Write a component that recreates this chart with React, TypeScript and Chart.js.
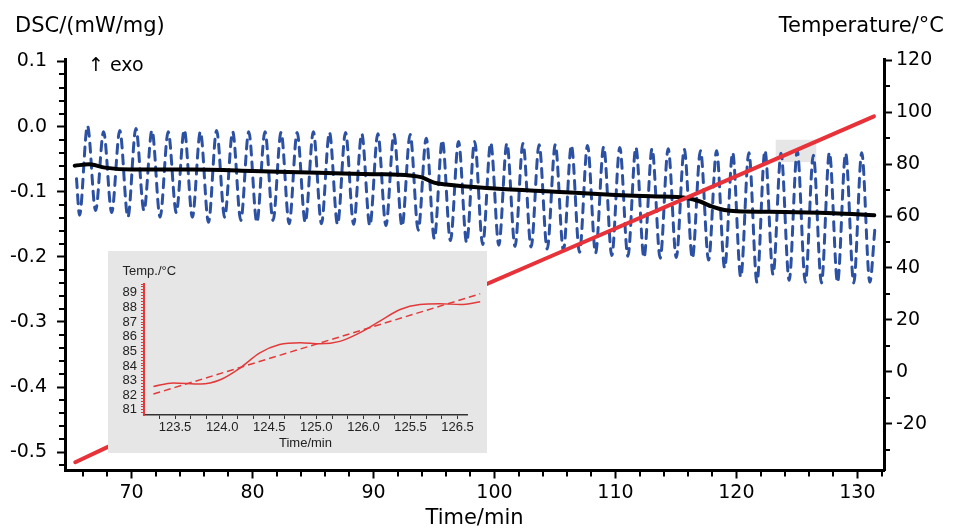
import { useEffect, useRef } from "react";
import { Chart, registerables } from "chart.js";

Chart.register(...registerables);

const FONT = '"DejaVu Sans", sans-serif';
const INSET_NUM_FONT = '"Liberation Sans Narrow", "Liberation Sans", sans-serif';
const INSET_TXT_FONT = '"Liberation Sans", sans-serif';

// ---------- main chart data ----------
// modulated DSC signal (extrema)
const dscTime = [65.45, 65.70, 66.36, 67.03, 67.69, 68.36, 69.03, 69.70, 70.36, 71.03, 71.69, 72.36, 73.03, 73.70, 74.36, 75.03, 75.69, 76.36, 77.03, 77.70, 78.36, 79.03, 79.69, 80.36, 81.03, 81.70, 82.36, 83.03, 83.69, 84.36, 85.03, 85.70, 86.36, 87.03, 87.69, 88.36, 89.03, 89.70, 90.36, 91.03, 91.69, 92.36, 93.03, 93.70, 94.36, 95.03, 95.69, 96.36, 97.03, 97.70, 98.36, 99.03, 99.69, 100.36, 101.03, 101.70, 102.36, 103.03, 103.69, 104.36, 105.03, 105.70, 106.36, 107.03, 107.69, 108.36, 109.03, 109.70, 110.36, 111.03, 111.69, 112.36, 113.03, 113.70, 114.36, 115.03, 115.69, 116.36, 117.03, 117.70, 118.36, 119.03, 119.69, 120.36, 121.03, 121.70, 122.36, 123.03, 123.69, 124.36, 125.03, 125.70, 126.36, 127.03, 127.69, 128.36, 129.03, 129.70, 130.36, 131.03, 131.45];
const dscValue = [-0.080,
  -0.136, 0.001, -0.129, -0.008, -0.132, -0.006, -0.139, -0.003, -0.129, -0.006,
  -0.139, -0.008, -0.132, -0.005, -0.139, -0.008, -0.147, -0.006, -0.139, -0.008,
  -0.144, -0.008, -0.147, -0.008, -0.144, -0.009, -0.149, -0.009, -0.147, -0.008,
  -0.149, -0.009, -0.150, -0.009, -0.150, -0.011, -0.152, -0.011, -0.152, -0.012,
  -0.153, -0.012, -0.159, -0.018, -0.172, -0.021, -0.175, -0.023, -0.178, -0.023,
  -0.181, -0.025, -0.182, -0.026, -0.184, -0.026, -0.185, -0.028, -0.188, -0.028,
  -0.190, -0.029, -0.193, -0.029, -0.194, -0.031, -0.198, -0.032, -0.199, -0.032,
  -0.201, -0.034, -0.202, -0.034, -0.201, -0.035, -0.202, -0.037, -0.205, -0.037,
  -0.217, -0.040, -0.231, -0.040, -0.239, -0.037, -0.227, -0.041, -0.236, -0.037,
  -0.239, -0.044, -0.240, -0.040, -0.239, -0.041, -0.240, -0.040,
  -0.239, -0.156];

// total heat flow
const totalTime = [65.3, 66.5, 67.8, 70.0, 75.0, 80.0, 85.5, 90.0, 93.0, 94.0, 95.0, 96.0, 100.0, 105.0, 110.0, 113.0, 116.0, 117.0, 118.0, 119.0, 120.0, 124.0, 128.0, 131.4];
const totalValue = [-0.060, -0.058, -0.063, -0.066, -0.066, -0.068, -0.071, -0.073, -0.075, -0.078, -0.086, -0.089, -0.095, -0.100, -0.105, -0.107, -0.110, -0.115, -0.123, -0.128, -0.130, -0.131, -0.133, -0.136];

// sample temperature
const tempTime = [65.35, 68.0, 75.0, 85.0, 95.0, 105.0, 115.0, 125.0, 131.37];
const tempValue = [-34.8, -29.0, -15.3, 4.8, 25.0, 45.2, 65.3, 85.5, 98.4];

// axis ticks
const timeTicks = [70, 80, 90, 100, 110, 120, 130];
const timeTickLabels = ["70", "80", "90", "100", "110", "120", "130"];
const dscTicks = [0.1, 0.0, -0.1, -0.2, -0.3, -0.4, -0.5];
const dscTickLabels = ["0.1", "0.0", "-0.1", "-0.2", "-0.3", "-0.4", "-0.5"];
const tempTicks = [120, 100, 80, 60, 40, 20, 0, -20];
const tempTickLabels = ["120", "100", "80", "60", "40", "20", "0", "-20"];

// zoom window shown in the inset
const zoomTime = [123.25, 126.6];
const zoomTemp = [80.8, 89.4];

// ---------- inset data ----------
const insetTime = [123.27, 123.48, 123.77, 123.98, 124.19, 124.40, 124.61, 124.83, 125.04, 125.25, 125.46, 125.67, 125.89, 126.10, 126.31, 126.53, 126.74];
const insetTemp = [82.60, 82.84, 82.77, 83.06, 83.86, 84.89, 85.46, 85.58, 85.51, 85.68, 86.26, 87.05, 87.86, 88.20, 88.25, 88.20, 88.38];
const insetRampTime = [123.27, 126.74];
const insetRampTemp = [82.08, 88.93];
const insetXLabels = ["123.5", "124.0", "124.5", "125.0", "126.0", "125.5", "126.5"];
const insetYLabels = ["81", "82", "83", "84", "85", "86", "87", "88", "89"];

const pts = (xs: number[], ys: number[]) => {
  const n = Math.min(xs.length, ys.length);
  const out: { x: number; y: number }[] = [];
  for (let i = 0; i < n; i++) out.push({ x: xs[i], y: ys[i] });
  return out;
};

const mainDecor = {
  id: "mainDecor",
  beforeDatasetsDraw(chart: any) {
    const { ctx, scales } = chart;
    const x0 = scales.x.getPixelForValue(zoomTime[0]);
    const x1 = scales.x.getPixelForValue(zoomTime[1]);
    const y0 = scales.y2.getPixelForValue(zoomTemp[1]);
    const y1 = scales.y2.getPixelForValue(zoomTemp[0]);
    ctx.save();
    ctx.fillStyle = "#e6e6e6";
    ctx.fillRect(x0, y0, x1 - x0, y1 - y0);
    ctx.restore();
  },
  afterDraw(chart: any) {
    const { ctx, chartArea: a, scales } = chart;
    ctx.save();
    ctx.strokeStyle = "#000";
    ctx.lineWidth = 2;
    ctx.beginPath();
    for (let v = 66; v <= 132; v += 2) {
      if (v % 10 === 0) continue;
      const px = Math.round(scales.x.getPixelForValue(v));
      ctx.moveTo(px, a.bottom);
      ctx.lineTo(px, a.bottom + 6);
    }
    for (let k = -26; k <= 5; k++) {
      if (k % 5 === 0) continue;
      const py = Math.round(scales.y.getPixelForValue(k * 0.02));
      ctx.moveTo(a.left, py);
      ctx.lineTo(a.left - 6, py);
    }
    for (let v = -30; v <= 120; v += 20) {
      const py = Math.round(scales.y2.getPixelForValue(v));
      ctx.moveTo(a.right, py);
      ctx.lineTo(a.right + 6, py);
    }
    ctx.stroke();

    ctx.fillStyle = "#000";
    ctx.textBaseline = "alphabetic";
    ctx.font = `21px ${FONT}`;
    ctx.textAlign = "left";
    ctx.fillText("DSC/(mW/mg)", 15, 31.5);
    ctx.textAlign = "right";
    ctx.fillText("Temperature/°C", 944, 31.5);
    ctx.font = `19px ${FONT}`;
    ctx.textAlign = "left";
    ctx.fillText("↑ exo", 88, 71);
    ctx.restore();
  },
};

const insetDecor = {
  id: "insetDecor",
  afterDraw(chart: any) {
    const { ctx } = chart;
    ctx.save();
    ctx.fillStyle = "#222";
    ctx.font = `13px ${INSET_TXT_FONT}`;
    ctx.textAlign = "left";
    ctx.textBaseline = "alphabetic";
    ctx.fillText("Temp./°C", 14.5, 24);
    ctx.restore();
  },
};

export default function App() {
  const mainRef = useRef<HTMLCanvasElement>(null);
  const insetRef = useRef<HTMLCanvasElement>(null);

  useEffect(() => {
    const main = new Chart(mainRef.current as HTMLCanvasElement, {
      type: "line",
      data: {
        datasets: [
          {
            label: "Temperature",
            data: pts(tempTime, tempValue),
            yAxisID: "y2",
            borderColor: "#e8323a",
            borderWidth: 4,
            pointRadius: 0,
            borderCapStyle: "round",
            borderJoinStyle: "round",
            order: 0,
          },
          {
            label: "DSC total",
            data: pts(totalTime, totalValue),
            yAxisID: "y",
            borderColor: "#000000",
            borderWidth: 4,
            pointRadius: 0,
            cubicInterpolationMode: "monotone",
            borderCapStyle: "round",
            order: 1,
          },
          {
            label: "DSC modulated",
            data: pts(dscTime, dscValue),
            yAxisID: "y",
            borderColor: "#2d51a2",
            borderWidth: 3,
            borderDash: [9, 7],
            borderCapStyle: "round",
            pointRadius: 0,
            cubicInterpolationMode: "monotone",
            order: 2,
          },
        ],
      } as any,
      options: {
        animation: false,
        responsive: false,
        events: [],
        layout: { padding: { top: 59.5, left: 0, right: 0, bottom: 0 } },
        plugins: { legend: { display: false }, tooltip: { enabled: false } },
        scales: {
          x: {
            type: "linear",
            position: "bottom",
            min: 64.5,
            max: 132.2,
            afterBuildTicks: (s: any) => {
              s.ticks = timeTicks.map((v) => ({ value: v }));
            },
            afterFit: (s: any) => {
              s.height = 60.5;
            },
            ticks: {
              autoSkip: false,
              maxRotation: 0,
              padding: 3,
              color: "#000",
              font: { family: FONT, size: 19 },
              callback: (_v: any, i: number) => timeTickLabels[i],
            },
            grid: { display: true, drawOnChartArea: false, drawTicks: true, tickLength: 8, tickWidth: 2, tickColor: "#000" },
            border: { display: true, color: "#000", width: 3 },
            title: { display: true, text: "Time/min", color: "#000", font: { family: FONT, size: 21 }, padding: { top: 0, bottom: 0 } },
          },
          y: {
            type: "linear",
            position: "left",
            min: -0.528,
            max: 0.103,
            afterBuildTicks: (s: any) => {
              s.ticks = dscTicks.map((v) => ({ value: v }));
            },
            afterFit: (s: any) => {
              s.width = 65;
            },
            ticks: {
              autoSkip: false,
              padding: 10,
              color: "#000",
              font: { family: FONT, size: 19 },
              callback: (_v: any, i: number) => dscTickLabels[i],
            },
            grid: { display: true, drawOnChartArea: false, drawTicks: true, tickLength: 8, tickWidth: 2, tickColor: "#000" },
            border: { display: true, color: "#000", width: 3 },
          },
          y2: {
            type: "linear",
            position: "right",
            min: -38,
            max: 120.3,
            afterBuildTicks: (s: any) => {
              s.ticks = tempTicks.map((v) => ({ value: v }));
            },
            afterFit: (s: any) => {
              s.width = 72;
            },
            ticks: {
              autoSkip: false,
              padding: 4,
              color: "#000",
              font: { family: FONT, size: 19 },
              callback: (_v: any, i: number) => tempTickLabels[i],
            },
            grid: { display: true, drawOnChartArea: false, drawTicks: true, tickLength: 8, tickWidth: 2, tickColor: "#000" },
            border: { display: true, color: "#000", width: 3 },
          },
        },
      } as any,
      plugins: [mainDecor],
    });

    const inset = new Chart(insetRef.current as HTMLCanvasElement, {
      type: "line",
      data: {
        datasets: [
          {
            label: "Temp.",
            data: pts(insetTime, insetTemp),
            borderColor: "#e23a3a",
            borderWidth: 1.5,
            pointRadius: 0,
            cubicInterpolationMode: "monotone",
            clip: false,
          },
          {
            label: "Linear",
            data: pts(insetRampTime, insetRampTemp),
            borderColor: "#e23a3a",
            borderWidth: 1.5,
            borderDash: [7, 4],
            pointRadius: 0,
            clip: false,
          },
        ],
      } as any,
      options: {
        animation: false,
        responsive: false,
        events: [],
        layout: { padding: { top: 33, left: 0, right: 20, bottom: 0 } },
        plugins: { legend: { display: false }, tooltip: { enabled: false } },
        scales: {
          x: {
            type: "linear",
            min: 123.17,
            max: 126.6,
            afterBuildTicks: (s: any) => {
              const t: { value: number }[] = [];
              for (let k = -1; k <= 18; k++) t.push({ value: 123.5 + k / 6 });
              s.ticks = t;
            },
            afterFit: (s: any) => {
              s.height = 38;
            },
            ticks: {
              autoSkip: false,
              maxRotation: 0,
              padding: 1,
              color: "#222",
              font: { family: INSET_NUM_FONT, size: 13 },
              callback: (_v: any, i: number) => {
                const k = i - 1;
                return k % 3 === 0 ? insetXLabels[k / 3] : "";
              },
            },
            grid: { display: true, drawOnChartArea: false, drawTicks: true, tickLength: 4, tickWidth: 1, tickColor: "#333" },
            border: { display: true, color: "#333", width: 1.5 },
            title: { display: true, text: "Time/min", color: "#222", font: { family: INSET_TXT_FONT, size: 13 }, padding: { top: 0, bottom: 2 } },
          },
          y: {
            type: "linear",
            min: 80.65,
            max: 89.6,
            afterBuildTicks: (s: any) => {
              const t: { value: number }[] = [];
              for (let k = 0; k <= 44; k++) t.push({ value: 80.8 + k * 0.2 });
              s.ticks = t;
            },
            afterFit: (s: any) => {
              s.width = 36;
            },
            ticks: {
              autoSkip: false,
              padding: 4,
              color: "#222",
              font: { family: INSET_NUM_FONT, size: 13 },
              callback: (v: any) => {
                const r = Math.round(v);
                return Math.abs(v - r) < 1e-6 ? insetYLabels[r - 81] ?? "" : "";
              },
            },
            grid: { display: true, drawOnChartArea: false, drawTicks: true, tickLength: 3, tickWidth: 1, tickColor: "#e23a3a" },
            border: { display: true, color: "#e23a3a", width: 2 },
          },
        },
      } as any,
      plugins: [insetDecor],
    });

    return () => {
      main.destroy();
      inset.destroy();
    };
  }, []);

  return (
    <div style={{ position: "fixed", left: 0, top: 0, width: 956, height: 531, background: "#fff" }}>
      <canvas ref={mainRef} width={956} height={531} style={{ position: "absolute", left: 0, top: 0, width: 956, height: 531 }} />
      <div style={{ position: "absolute", left: 108, top: 251, width: 379, height: 202, background: "#e6e6e6" }}>
        <canvas ref={insetRef} width={379} height={202} style={{ display: "block", width: 379, height: 202 }} />
      </div>
    </div>
  );
}
